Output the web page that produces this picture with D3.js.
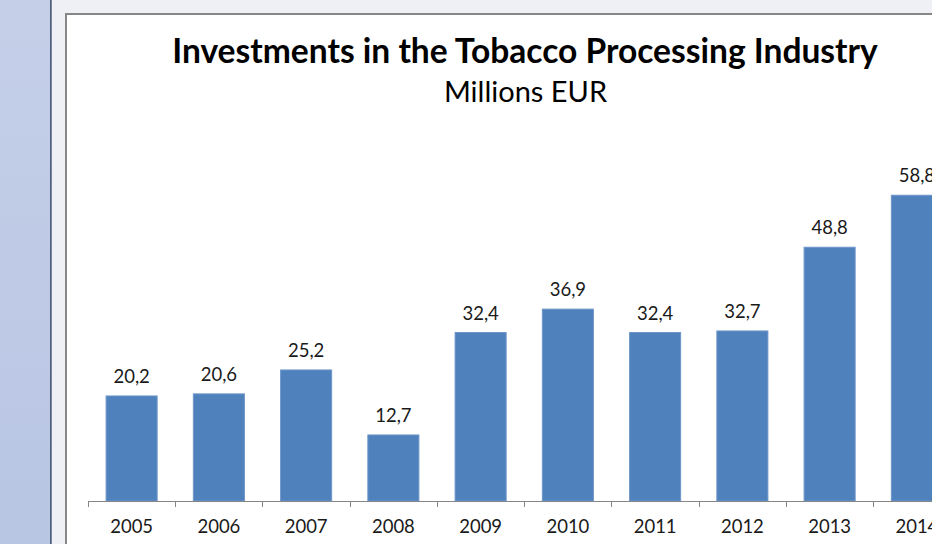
<!DOCTYPE html>
<html>
<head>
<meta charset="utf-8">
<script src="https://cdn.jsdelivr.net/npm/d3@7"></script>
<style>
  html, body { margin: 0; padding: 0; background: #eef0f6; overflow: hidden; }
  svg { display: block; }
</style>
</head>
<body>
<svg id="chart" width="932" height="544"></svg>
<script>
// Annual investments, millions of euro
const years = ["2005", "2006", "2007", "2008", "2009", "2010", "2011", "2012", "2013", "2014"];
const investments = [20.2, 20.6, 25.2, 12.7, 32.4, 36.9, 32.4, 32.7, 48.8, 58.8];
const titleText = "Investments in the Tobacco Processing Industry";
const subtitleText = "Millions EUR";
const yDomain = [0, 70];

const svg = d3.select("#chart");
const W = 932, H = 544;

// Window frame: side panel, divider, light margin
const defs = svg.append("defs");
const grad = defs.append("linearGradient").attr("id", "panelGrad")
  .attr("x1", 0).attr("y1", 0).attr("x2", 0).attr("y2", 1);
grad.append("stop").attr("offset", "0%").attr("stop-color", "#c5cfe8");
grad.append("stop").attr("offset", "100%").attr("stop-color", "#b8c5e3");

svg.append("rect").attr("x", 0).attr("y", 0).attr("width", W).attr("height", H).attr("fill", "#eef0f6");
svg.append("rect").attr("x", 0).attr("y", 0).attr("width", 50).attr("height", H).attr("fill", "url(#panelGrad)");
svg.append("rect").attr("x", 50).attr("y", 0).attr("width", 1).attr("height", H).attr("fill", "#4e5d7a");
svg.append("rect").attr("x", 51).attr("y", 0).attr("width", 1).attr("height", H).attr("fill", "#7b88a3");

// Chart area with grey border
svg.append("rect").attr("x", 66).attr("y", 14).attr("width", 1000).attr("height", 600)
  .attr("fill", "#ffffff").attr("stroke", "#878787").attr("stroke-width", 2);

const font = "Lato, 'Noto Sans', sans-serif";

// Scales
const x = d3.scaleBand()
  .domain(years)
  .range([88, 88 + 87.25 * years.length])
  .paddingInner(0.415)
  .paddingOuter(0.2075);

const y = d3.scaleLinear().domain(yDomain).range([501, 137]);

// Bars
svg.append("g").selectAll("rect")
  .data(years.map((yr, i) => ({ yr, v: investments[i] })))
  .join("rect")
  .attr("x", d => x(d.yr))
  .attr("y", d => y(d.v))
  .attr("width", x.bandwidth())
  .attr("height", d => y(0) - y(d.v))
  .attr("fill", "#4f81bd")
  .attr("stroke", "#6e96c9")
  .attr("stroke-width", 1);

// Value labels (decimal comma)
const fmt = v => d3.format(".1f")(v).replace(".", ",");
svg.append("g").selectAll("text")
  .data(years.map((yr, i) => ({ yr, v: investments[i] })))
  .join("text")
  .attr("x", d => x(d.yr) + x.bandwidth() / 2)
  .attr("y", d => y(d.v) - 13)
  .attr("text-anchor", "middle")
  .attr("font-family", font)
  .attr("font-size", 18.5)
  .attr("fill", "#1a1a1a")
  .text(d => fmt(d.v));

// Category axis: baseline, boundary ticks, labels
const axisG = svg.append("g").attr("transform", `translate(0,${y(0)})`);
const xAxis = d3.axisBottom(x).tickSize(0).tickPadding(0);
axisG.call(xAxis);
axisG.select(".domain").remove();
axisG.selectAll("text")
  .attr("font-family", font)
  .attr("font-size", 18.5)
  .attr("fill", "#1a1a1a")
  .attr("dy", null)
  .attr("y", 31.5);

const gap = (x.step() - x.bandwidth()) / 2;
const edges = years.map(d => x(d) - gap).concat([x(years[years.length - 1]) + x.bandwidth() + gap]);
axisG.append("line")
  .attr("x1", edges[0]).attr("x2", edges[edges.length - 1])
  .attr("y1", 0.5).attr("y2", 0.5)
  .attr("stroke", "#868686").attr("stroke-width", 1);
axisG.selectAll(".edge").data(edges).join("line")
  .attr("class", "edge")
  .attr("x1", d => Math.round(d) + 0.5).attr("x2", d => Math.round(d) + 0.5)
  .attr("y1", 0).attr("y2", 6)
  .attr("stroke", "#868686").attr("stroke-width", 1);

// Titles, sized to their set widths
function fitWidth(sel, target) {
  const w = sel.node().getBBox().width;
  const fs = parseFloat(sel.attr("font-size"));
  sel.attr("font-size", fs * target / w);
}
const title = svg.append("text")
  .attr("x", 525).attr("y", 63)
  .attr("text-anchor", "middle")
  .attr("font-family", font)
  .attr("font-weight", "bold")
  .attr("font-size", 30)
  .attr("fill", "#000")
  .text(titleText);
fitWidth(title, 706);

const subtitle = svg.append("text")
  .attr("x", 525.5).attr("y", 102)
  .attr("text-anchor", "middle")
  .attr("font-family", font)
  .attr("font-size", 26)
  .attr("fill", "#000")
  .text(subtitleText);
fitWidth(subtitle, 164);
</script>
</body>
</html>
